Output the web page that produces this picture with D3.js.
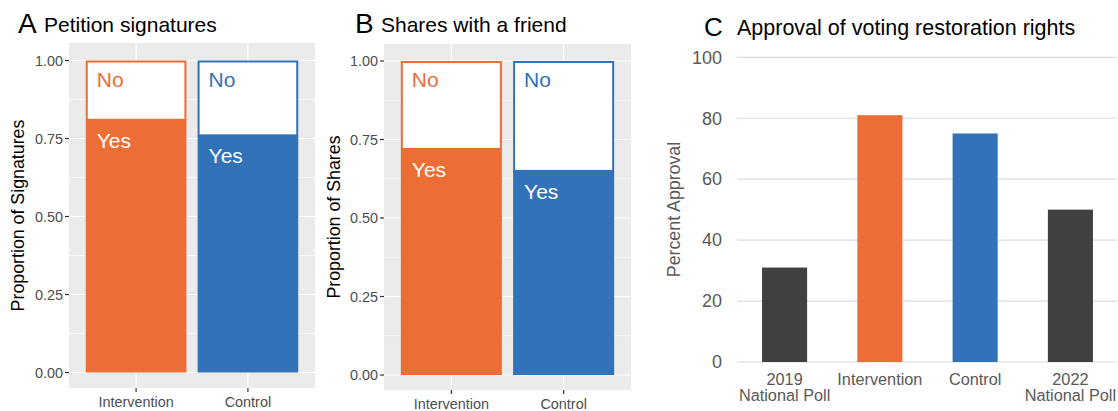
<!DOCTYPE html>
<html><head><meta charset="utf-8">
<script src="https://cdn.jsdelivr.net/npm/d3@7"></script>
<style>body{margin:0;background:#fff;} svg{display:block;font-family:"Liberation Sans",Arial,sans-serif;}</style>
</head><body>
<svg id="c" width="1118" height="411"></svg>
<script>
const groups = ["Intervention", "Control"];
const petitionYes = [0.81, 0.76];
const sharesYes = [0.72, 0.65];
const propTicks = [0, 0.25, 0.5, 0.75, 1];
const pollCategories = ["2019|National Poll", "Intervention", "Control", "2022|National Poll"];
const approval = [31, 81, 75, 50];
const pctTicks = [0, 20, 40, 60, 80, 100];

const groupColors = {Intervention: "#ED6D37", Control: "#3172B8"};
const pollColors = ["#404040", "#ED6D37", "#3172B8", "#404040"];

const svg = d3.select("#c");

function stackedPanel(opts) {
  const {left, right, top, bottom, y0, y1, yes, letter, title, ytitle, ytitleX, titleX} = opts;
  const g = svg.append("g");
  const unit = (right - left) / (groups.length - 1 + 1.2);
  const x = d3.scalePoint().domain(groups).range([left + unit * 0.6, right - unit * 0.6]);
  const cx = d => x(d);
  const bw = unit * 0.9;
  const y = d3.scaleLinear().domain([0, 1]).range([y0, y1]);
  g.append("rect").attr("x", left).attr("y", top).attr("width", right - left).attr("height", bottom - top).attr("fill", "#EBEBEB");
  const minor = [0.125, 0.375, 0.625, 0.875];
  g.selectAll(".mn").data(minor).enter().append("line")
    .attr("x1", left).attr("x2", right).attr("y1", d => y(d)).attr("y2", d => y(d))
    .attr("stroke", "#fff").attr("stroke-width", 0.6);
  g.selectAll(".mj").data(propTicks).enter().append("line")
    .attr("x1", left).attr("x2", right).attr("y1", d => y(d)).attr("y2", d => y(d))
    .attr("stroke", "#fff").attr("stroke-width", 1.2);
  g.selectAll(".vg").data(groups).enter().append("line")
    .attr("x1", d => cx(d)).attr("x2", d => cx(d)).attr("y1", top).attr("y2", bottom)
    .attr("stroke", "#fff").attr("stroke-width", 1.2);
  groups.forEach((gname, i) => {
    const col = groupColors[gname];
    g.append("rect").attr("x", cx(gname) - bw / 2).attr("y", y(yes[i])).attr("width", bw).attr("height", y(0) - y(yes[i]))
      .attr("fill", col);
    g.append("rect").attr("x", cx(gname) - bw / 2 + 1).attr("y", y(1) + 1).attr("width", bw - 2).attr("height", y(yes[i]) - y(1) - 1)
      .attr("fill", "#fff").attr("stroke", col).attr("stroke-width", 2);
    g.append("text").attr("x", cx(gname) - bw / 2 + 11).attr("y", y(1) + 26).attr("fill", col)
      .attr("font-size", 21).text("No");
    g.append("text").attr("x", cx(gname) - bw / 2 + 11).attr("y", y(yes[i]) + 28).attr("fill", "#fff")
      .attr("font-size", 21).text("Yes");
  });
  g.selectAll(".yt").data(propTicks).enter().append("line")
    .attr("x1", left - 4).attr("x2", left).attr("y1", d => y(d)).attr("y2", d => y(d)).attr("stroke", "#333").attr("stroke-width", 1.2);
  g.selectAll(".yl").data(propTicks).enter().append("text")
    .attr("x", left - 6).attr("y", d => y(d)).attr("dy", "0.35em").attr("text-anchor", "end")
    .attr("font-size", 14.4).attr("fill", "#4D4D4D").text(d => d3.format(".2f")(d));
  g.selectAll(".xt").data(groups).enter().append("line")
    .attr("x1", d => cx(d)).attr("x2", d => cx(d)).attr("y1", bottom).attr("y2", bottom + 4).attr("stroke", "#333").attr("stroke-width", 1.2);
  g.selectAll(".xl").data(groups).enter().append("text")
    .attr("x", d => cx(d)).attr("y", bottom + 19).attr("text-anchor", "middle")
    .attr("font-size", 14.4).attr("fill", "#4D4D4D").text(d => d);
  g.append("text").attr("transform", `translate(${ytitleX},${(top + bottom) / 2}) rotate(-90)`)
    .attr("text-anchor", "middle").attr("font-size", 17.8).attr("fill", "#000").text(ytitle);
  g.append("text").attr("x", titleX).attr("y", 33).attr("font-size", 28).attr("fill", "#000").text(letter);
  g.append("text").attr("x", titleX + 26).attr("y", 32).attr("font-size", 21).attr("fill", "#000").text(title);
}

stackedPanel({left: 69, right: 315, top: 43, bottom: 388, y0: 372.5, y1: 60.5, yes: petitionYes,
  letter: "A", title: "Petition signatures", ytitle: "Proportion of Signatures", ytitleX: 24, titleX: 18});
stackedPanel({left: 384, right: 631, top: 44, bottom: 390, y0: 375, y1: 61, yes: sharesYes,
  letter: "B", title: "Shares with a friend", ytitle: "Proportion of Shares", ytitleX: 339.5, titleX: 355});

(function () {
  const g = svg.append("g");
  const left = 737, right = 1118;
  const x = d3.scaleBand().domain(pollCategories).range([left, right]).paddingInner(0.527).paddingOuter(0.263);
  const y = d3.scaleLinear().domain([0, 100]).range([362, 57.3]);
  g.selectAll(".gl").data(pctTicks).enter().append("line")
    .attr("x1", left).attr("x2", 1117).attr("y1", d => y(d)).attr("y2", d => y(d))
    .attr("stroke", "#DCDCDC").attr("stroke-width", 1.2);
  g.selectAll(".bar").data(approval).enter().append("rect")
    .attr("x", (d, i) => x(pollCategories[i])).attr("width", x.bandwidth())
    .attr("y", d => y(d)).attr("height", d => y(0) - y(d))
    .attr("fill", (d, i) => pollColors[i]);
  g.selectAll(".yl").data(pctTicks).enter().append("text")
    .attr("x", 722).attr("y", d => y(d)).attr("dy", "0.35em").attr("text-anchor", "end")
    .attr("font-size", 18).attr("fill", "#595959").text(d => d);
  pollCategories.forEach(c => {
    const lines = c.split("|");
    const t = g.append("text").attr("text-anchor", "middle").attr("font-size", 16.3).attr("fill", "#595959");
    lines.forEach((ln, j) => {
      t.append("tspan").attr("x", x(c) + x.bandwidth() / 2).attr("y", 384.5 + j * 16.5).text(ln);
    });
  });
  g.append("text").attr("transform", `translate(680,${(57 + 362) / 2}) rotate(-90)`)
    .attr("text-anchor", "middle").attr("font-size", 17.8).attr("fill", "#595959").text("Percent Approval");
  g.append("text").attr("x", 704).attr("y", 36).attr("font-size", 26).attr("fill", "#000").text("C");
  g.append("text").attr("x", 737).attr("y", 35).attr("font-size", 21.5).attr("fill", "#000").text("Approval of voting restoration rights");
})();
</script>
</body></html>
